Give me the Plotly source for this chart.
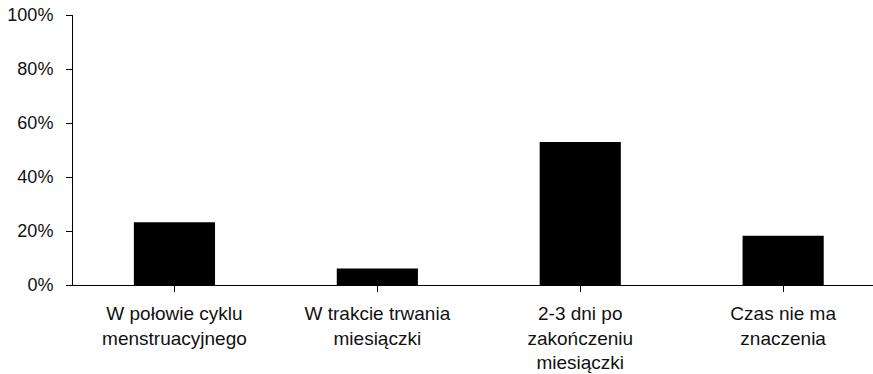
import plotly.graph_objects as go

# Survey answers: best time in the cycle (share of respondents, %)
categories = [
    "W połowie cyklu<br>menstruacyjnego",
    "W trakcie trwania<br>miesiączki",
    "2-3 dni po<br>zakończeniu<br>miesiączki",
    "Czas nie ma<br>znaczenia",
]
shares = [23.2, 6.1, 53.0, 18.2]
y_ticks = [0, 20, 40, 60, 80, 100]

FONT = "Liberation Sans, Arial, sans-serif"

fig = go.Figure(
    go.Bar(
        x=list(range(len(categories))),
        y=shares,
        width=0.4,
        marker=dict(color="black", line=dict(width=0)),
        hoverinfo="skip",
    )
)

fig.update_layout(
    width=873,
    height=374,
    margin=dict(l=73, r=0, t=15, b=89),
    paper_bgcolor="white",
    plot_bgcolor="white",
    showlegend=False,
    font=dict(family=FONT, color="black"),
)

fig.update_xaxes(
    tickmode="array",
    tickvals=list(range(len(categories))),
    ticktext=categories,
    range=[-0.5, -0.5 + 800 / 202.9],
    automargin=False,
    showline=True,
    linecolor="black",
    linewidth=1,
    ticks="outside",
    tickson="boundaries",
    ticklen=6,
    tickcolor="black",
    tickfont=dict(size=19, family=FONT, color="#111111"),
    ticklabelstandoff=5,
    showgrid=False,
    zeroline=False,
    fixedrange=True,
)

fig.update_yaxes(
    range=[0, 100],
    tickmode="array",
    tickvals=y_ticks,
    ticktext=[f"{v}%" for v in y_ticks],
    automargin=False,
    showline=True,
    linecolor="black",
    linewidth=1,
    ticks="outside",
    ticklen=6,
    tickcolor="black",
    tickfont=dict(size=18, family=FONT, color="#111111"),
    ticklabelstandoff=9,
    showgrid=False,
    zeroline=False,
    fixedrange=True,
)

fig.write_html("out.html", config={"displayModeBar": False})
